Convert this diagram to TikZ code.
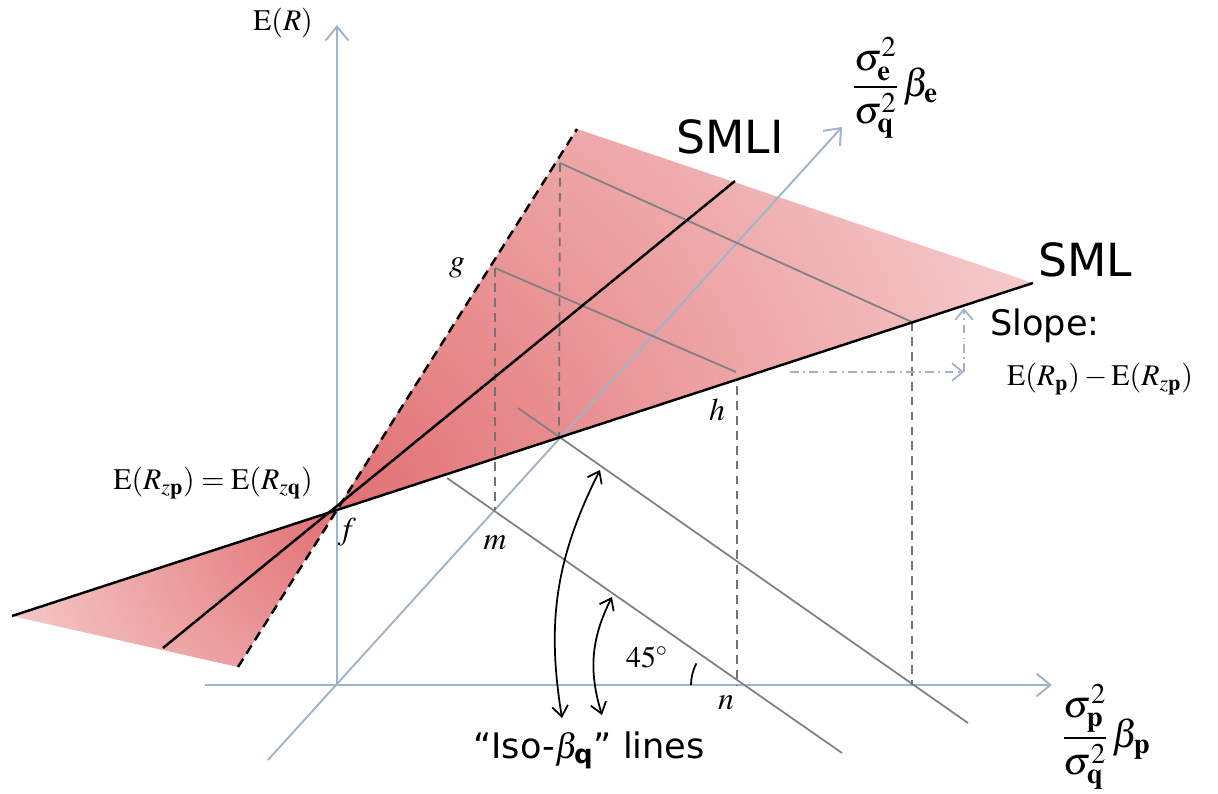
\documentclass[tikz,border=0pt]{standalone}
\usepackage{amsmath}
\usepackage{mathptmx}
\usepackage{fontspec}
\setmainfont{Liberation Serif}
\setsansfont{DejaVu Sans}
\usepackage{xcolor}
\usetikzlibrary{arrows.meta,calc,positioning}

\definecolor{axisblue}{RGB}{160,180,200}
\definecolor{isogray}{RGB}{128,128,128}
\definecolor{dropgray}{RGB}{115,115,115}
\definecolor{pinkdark}{RGB}{226,112,115}
\definecolor{pinklight}{RGB}{248,214,214}

\begin{document}
\begin{tikzpicture}[x=0.02cm, y=-0.02cm,
  axis/.style={axisblue, line width=1.1pt, -{Straight Barb[length=8pt,width=13pt]}},
  isoline/.style={isogray, line width=1pt},
  dropline/.style={dropgray, line width=1pt, dash pattern=on 5pt off 3.5pt},
  secline/.style={black, line width=1.4pt},
  bendarrow/.style={black, line width=1pt,
    {Straight Barb[length=6pt,width=9pt]}-{Straight Barb[length=6pt,width=9pt]}},
  slopearrow/.style={axisblue, line width=1pt,
    dash pattern=on 5pt off 2.5pt on 1pt off 2.5pt,
    -{Straight Barb[length=6pt,width=10pt]}},
  mathlbl/.style={font=\fontsize{17}{20}\selectfont},
  fraclbl/.style={font=\fontsize{22}{26}\selectfont},
  ptlbl/.style={font=\fontsize{18}{20}\selectfont},
  sanslbl/.style={font=\sffamily\fontsize{26}{30}\selectfont},
  smallsans/.style={font=\sffamily\fontsize{20}{24}\selectfont}]

\useasboundingbox (0,0) rectangle (1218,794);

% ---- key points ----
\coordinate (O) at (337,685);
\coordinate (f) at (337,509);
\coordinate (ytop) at (337,25);
\coordinate (xleft) at (205,685);
\coordinate (xright) at (1052,685);
\coordinate (dlow) at (268,760);
\coordinate (dtop) at (842,127);

\coordinate (sml0) at (12,616);
\coordinate (sml1) at (1033,283);
\coordinate (smli0) at (163,648);
\coordinate (smli1) at (735,181);
\coordinate (dsh0) at (238,667);
\coordinate (dsh1) at (577,129);

% ---- pink planes ----
\begin{scope}
  \clip (f) -- (dsh1) -- (sml1) -- cycle;
  \shade[inner color=pinkdark, outer color=pinklight] (f) circle[radius=820];
\end{scope}
\begin{scope}
  \clip (f) -- (sml0) -- (dsh0) -- cycle;
  \shade[inner color=pinkdark, outer color=pinklight] (f) circle[radius=400];
\end{scope}

% ---- axes ----
\draw[axis] (O) -- (ytop);
\draw[axis] (xleft) -- (xright);
\draw[axis] (dlow) -- (dtop);

% ---- iso-beta lines in the floor ----
\coordinate (m) at (495,510);
\coordinate (n) at (737,685);
\coordinate (p) at (559,437);
\coordinate (q) at (912,685);
\coordinate (A0) at (447,478);
\coordinate (A1) at (842,753);
\coordinate (B0) at (518,408);
\coordinate (B1) at (968,723);
\draw[isoline] (A0) -- (A1);
\draw[isoline] (B0) -- (B1);

% ---- their images in the plane ----
\coordinate (g) at (495,268);
\coordinate (h) at (736,372);
\coordinate (u0) at (560,163);
\coordinate (u1) at (912,322);
\draw[isoline] (g) -- (h);
\draw[isoline] (u0) -- (u1);

% drop lines
\coordinate (hdrop) at (737,386);
\draw[dropline] (g) -- (m);
\draw[dropline] (u0) -- (p);
\draw[dropline] (hdrop) -- (n);
\draw[dropline] (u1) -- (q);

% ---- SML, SMLI and edge ----
\draw[secline] (sml0) -- (sml1);
\draw[secline] (smli0) -- (smli1);
\draw[secline, dash pattern=on 5.5pt off 3.5pt] (dsh0) -- (dsh1);

% ---- slope arrows ----
\coordinate (sl0) at (790,372);
\coordinate (sl1) at (964,372);
\coordinate (sl2) at (964,308);
\draw[slopearrow] (sl0) -- (sl1);
\draw[slopearrow] (sl1) -- (sl2);

% ---- curved arrows and angle ----
\coordinate (c1a) at (600,470);
\coordinate (c1b) at (562,718);
\coordinate (c2a) at (612,597);
\coordinate (c2b) at (602,715);
\draw[bendarrow] (c1a) to[bend right=18] (c1b);
\draw[bendarrow] (c2a) to[bend right=22] (c2b);
\draw[black, line width=1pt] ($(n)+(-46,0)$) arc[start angle=180, end angle=208, radius=46];

% ---- labels ----
\node[mathlbl] (ER) at (283,23) {$\mathrm{E}(R)$};
\node[fraclbl] (elbl) at (895,88) {$\dfrac{\sigma^2_{\mathbf{e}}}{\sigma^2_{\mathbf{q}}}\,\beta_{\mathbf{e}}$};
\node[fraclbl] (plbl) at (1106,737) {$\dfrac{\sigma^2_{\mathbf{p}}}{\sigma^2_{\mathbf{q}}}\,\beta_{\mathbf{p}}$};
\node[sanslbl] (smlilbl) at (730,137) {SMLI};
\node[sanslbl] (smllbl) at (1085,260) {SML};
\node[smallsans] (slopelbl) at (1045,326) {Slope:};
\node[mathlbl] (slopeval) at (1100,379) {$\mathrm{E}(R_{\mathbf{p}})-\mathrm{E}(R_{z\mathbf{p}})$};
\node[mathlbl] (zlbl) at (213,483) {$\mathrm{E}(R_{z\mathbf{p}})=\mathrm{E}(R_{z\mathbf{q}})$};
\node[ptlbl] (flbl) at (347,532) {$f$};
\node[ptlbl] (glbl) at (457,268) {$g$};
\node[ptlbl] (hlbl) at (717,410) {$h$};
\node[ptlbl] (mlbl) at (495,543) {$m$};
\node[ptlbl] (nlbl) at (726,703) {$n$};
\node[mathlbl] (anglbl) at (647,657) {$45^{\circ}$};
\node[smallsans] (isolbl) at (589,750) {“Iso-$\beta_{\textbf{q}}$” lines};

\end{tikzpicture}
\end{document}
